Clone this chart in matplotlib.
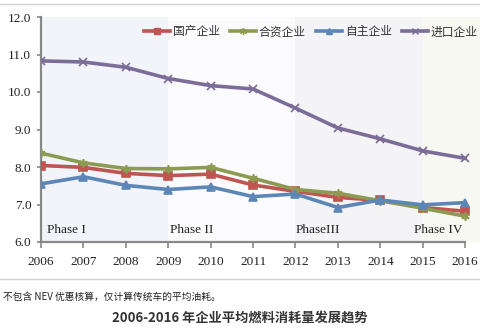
import matplotlib
matplotlib.use('Agg')
import matplotlib.pyplot as plt
from matplotlib.lines import Line2D

plt.rcParams['font.family'] = ['Noto Sans CJK SC', 'DejaVu Sans']
plt.rcParams['axes.unicode_minus'] = False

years = [2006, 2007, 2008, 2009, 2010, 2011, 2012, 2013, 2014, 2015, 2016]
domestic = [8.04, 7.99, 7.83, 7.77, 7.81, 7.52, 7.35, 7.19, 7.11, 6.92, 6.82]
joint = [8.37, 8.11, 7.96, 7.95, 7.99, 7.70, 7.40, 7.30, 7.10, 6.90, 6.69]
independent = [7.55, 7.74, 7.51, 7.40, 7.47, 7.21, 7.28, 6.92, 7.12, 6.99, 7.05]
imported = [10.83, 10.80, 10.66, 10.36, 10.17, 10.08, 9.57, 9.04, 8.75, 8.43, 8.23]

series_names = ['国产企业', '合资企业', '自主企业', '进口企业']
colors = ['#bf5551', '#8c9b52', '#5b86b6', '#7b6c98']
markers = ['s', (6, 2, 0), '^', 'x']

phase_labels = ['Phase I', 'Phase II', 'PhaseIII', 'Phase IV']
phase_starts = [2006, 2009, 2012, 2015]
phase_ends = [2009, 2012, 2015, 2016.35]
phase_colors = ['#f2f4fa', '#fbfbfd', '#f4f4f7', '#f7f8f2']
phase_text_x = [2006.15, 2009.05, 2012.0, 2014.8]

fig = plt.figure(figsize=(4.8, 3.32), dpi=100)
fig.patch.set_facecolor('white')
ax = fig.add_axes([41 / 480, 1 - 242 / 332, 1 - 41 / 480, 225 / 332])
ax.set_facecolor('white')

for s, e, c in zip(phase_starts, phase_ends, phase_colors):
    ax.axvspan(s, e, color=c, zorder=0, lw=0)

for vals, c, m in zip([domestic, joint, independent, imported], colors, markers):
    ax.plot(years, vals, color=c, lw=2.6, marker=m, markersize=6,
            markerfacecolor=c, markeredgecolor=c, markeredgewidth=1.2, zorder=3)

for lab, x in zip(phase_labels, phase_text_x):
    ax.text(x, 6.15, lab, fontsize=9.5, family='Liberation Serif', color='#222222',
            ha='left', va='bottom')

ax.set_xlim(2006, 2016.35)
ax.set_ylim(6.0, 12.0)
ax.set_xticks(years)
ax.set_yticks([6, 7, 8, 9, 10, 11, 12])
ax.set_yticklabels(['6.0', '7.0', '8.0', '9.0', '10.0', '11.0', '12.0'])
for t in ax.get_xticklabels() + ax.get_yticklabels():
    t.set_family('Liberation Serif')
    t.set_fontsize(9.5)
    t.set_color('#222222')
ax.tick_params(axis='x', direction='out', length=4, color='#888888', width=1.2, pad=6)
ax.tick_params(axis='y', direction='out', length=3, color='#888888', width=1.2, pad=4)
ax.spines['top'].set_visible(False)
ax.spines['right'].set_visible(False)
ax.spines['left'].set_color('#888888')
ax.spines['bottom'].set_color('#888888')
ax.spines['left'].set_linewidth(1.6)
ax.spines['bottom'].set_linewidth(1.6)
ax.spines['bottom'].set_bounds(2006, 2016)

handles = [Line2D([0], [0], color=c, lw=2.6, marker=m, markersize=5,
                  markerfacecolor=c, markeredgecolor=c) for c, m in zip(colors, markers)]
fig.legend(handles, series_names, loc='center right', bbox_to_anchor=(0.995, 1 - 32 / 332),
           ncol=4, frameon=False, fontsize=8.5, handlelength=2.2, handletextpad=0.2,
           columnspacing=0.9, labelcolor='#333333', borderaxespad=0, borderpad=0)

# separator lines and captions
fig.add_artist(Line2D([0, 1], [1 - 4 / 332, 1 - 4 / 332], color='#d0d0d0', lw=1))
fig.add_artist(Line2D([0, 1], [1 - 279 / 332, 1 - 279 / 332], color='#d0d0d0', lw=1))
fig.text(3 / 480, 1 - 297 / 332, '不包含 NEV 优惠核算，仅计算传统车的平均油耗。',
         fontsize=7, color='#222222', ha='left', va='center')
fig.text(0.5, 1 - 318 / 332, '2006-2016 年企业平均燃料消耗量发展趋势',
         fontsize=9.5, color='#333333', ha='center', va='center', fontweight='bold')

fig.savefig('out.png', dpi=100, facecolor='white')
